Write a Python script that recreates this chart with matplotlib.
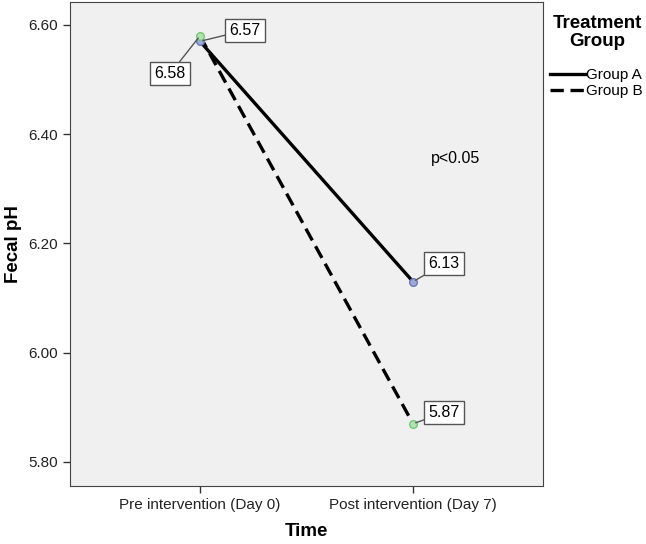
import matplotlib
matplotlib.use("Agg")
import matplotlib.pyplot as plt

plt.rcParams['font.family'] = ['Liberation Sans', 'DejaVu Sans']

times = ["Pre intervention (Day 0)", "Post intervention (Day 7)"]
group_a = [6.57, 6.13]
group_b = [6.58, 5.87]
yticks = [5.80, 6.00, 6.20, 6.40, 6.60]

W, H = 646, 544
fig = plt.figure(figsize=(W / 100, H / 100), dpi=100)
ax = fig.add_axes([70 / W, 1 - 486 / H, 473 / W, 484 / H])
ax.set_facecolor('#f0f0f0')

x = [0, 1]
la, = ax.plot(x, group_a, '-', color='black', lw=2.4, zorder=3)
lb, = ax.plot(x, group_b, '--', color='black', lw=2.4, dashes=(4, 2), zorder=3)
ax.plot(x, group_a, 'o', ms=5.5, mfc='#9fa8d8', mec='#6a78b8', mew=1, zorder=4)
ax.plot(x, group_b, 'o', ms=5.5, mfc='#b8e0b8', mec='#74c874', mew=1, zorder=4)

box = dict(boxstyle='square,pad=0.25', fc='white', ec='#555555', lw=1)
arr = dict(arrowstyle='-', color='#555555', lw=1, shrinkA=0, shrinkB=2)
# (value position, text offset in points)
labels = [((0, group_a[0]), (32.4, 7.9)),
          ((0, group_b[0]), (-21.6, -27.4)),
          ((1, group_a[1]), (22.3, 13.0)),
          ((1, group_b[1]), (22.3, 7.9))]
for (px, py), off in labels:
    ax.annotate(f"{py:.2f}", (px, py), xytext=off, textcoords='offset points',
                ha='center', va='center', fontsize=11.5, bbox=box, arrowprops=arr,
                zorder=5)

ax.text(1.2, 6.355, "p<0.05", fontsize=11.5, ha='center', va='center')

ax.set_xlim(-0.61, 1.61)
ax.set_ylim(5.756, 6.642)
ax.set_xticks(x)
ax.set_xticklabels(times, fontsize=11)
ax.set_yticks(yticks)
ax.set_yticklabels([f"{v:.2f}" for v in yticks], fontsize=11)
ax.tick_params(length=5, width=1, color='#333333', labelcolor='#222222')
for s in ax.spines.values():
    s.set_color('#444444')
ax.set_xlabel("Time", fontsize=13.5, fontweight='bold', labelpad=8)
fig.text(13 / W, 1 - 244 / H, "Fecal pH", fontsize=13.5, fontweight='bold',
         rotation=90, ha='center', va='center')

fig.text(597 / W, 1 - 32.5 / H, "Treatment\nGroup", fontsize=13.5, fontweight='bold',
         ha='center', va='center', linespacing=1.0)
fig.legend([la, lb], ["Group A", "Group B"], loc='upper left',
           bbox_to_anchor=(544 / W, 1 - 62 / H), frameon=False, fontsize=11,
           handlelength=2.3, handletextpad=0.05, labelspacing=0.15, borderaxespad=0)

fig.savefig("out.png", dpi=100)
